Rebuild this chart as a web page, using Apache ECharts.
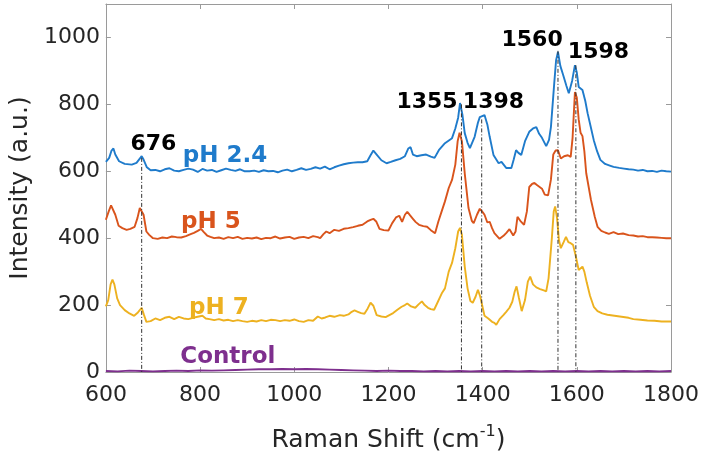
<!DOCTYPE html>
<html><head><meta charset="utf-8">
<script src="https://cdn.jsdelivr.net/npm/echarts@6/dist/echarts.min.js"></script>
<style>html,body{margin:0;padding:0;background:#fff}#c{width:702px;height:459px}</style>
</head><body><div id="c"></div>
<script>
// ---- data ----
const xTicks = [600, 800, 1000, 1200, 1400, 1600, 1800];
const yTicks = [0, 200, 400, 600, 800, 1000];

const pH24 = [[600,628],[607,640],[612,662],[616,668],[620,650],[628,630],[640,622],[655,620],[665,625],[672,638],[676,645],[680,635],[687,612],[695,603],[705,604],[715,600],[725,606],[735,609],[745,602],[755,600],[765,604],[775,608],[785,605],[795,598],[805,607],[815,602],[825,604],[835,598],[845,603],[855,608],[865,604],[875,601],[885,606],[895,600],[905,600],[915,602],[925,598],[935,603],[945,600],[955,601],[965,597],[975,602],[985,605],[995,600],[1005,604],[1015,609],[1025,604],[1035,607],[1045,612],[1055,608],[1065,614],[1075,606],[1085,612],[1095,617],[1105,621],[1115,624],[1125,626],[1135,627],[1145,627],[1155,630],[1162,648],[1168,662],[1175,650],[1185,633],[1196,624],[1205,628],[1215,633],[1225,637],[1235,645],[1242,668],[1247,672],[1252,650],[1260,645],[1270,648],[1280,650],[1290,644],[1298,640],[1307,663],[1320,684],[1335,699],[1342,728],[1348,760],[1352,804],[1357,770],[1362,714],[1368,685],[1373,669],[1383,703],[1390,745],[1394,762],[1399,765],[1404,768],[1410,740],[1415,703],[1423,649],[1434,624],[1440,628],[1450,610],[1461,610],[1466,635],[1471,663],[1476,655],[1482,649],[1490,690],[1499,718],[1507,728],[1514,732],[1520,712],[1526,700],[1535,675],[1541,694],[1545,732],[1552,862],[1556,932],[1560,957],[1565,915],[1571,888],[1578,855],[1583,833],[1590,870],[1596,917],[1600,895],[1604,852],[1612,843],[1618,810],[1623,773],[1630,730],[1636,693],[1643,660],[1650,634],[1660,622],[1670,617],[1678,613],[1690,610],[1700,608],[1710,606],[1720,605],[1730,602],[1740,604],[1750,600],[1760,601],[1770,598],[1780,602],[1790,600],[1800,599]];

const pH5 = [[600,455],[606,480],[611,498],[615,500],[620,470],[627,437],[635,430],[644,425],[652,428],[661,434],[667,460],[672,490],[676,494],[680,470],[686,420],[692,410],[700,400],[710,398],[720,402],[730,400],[740,405],[750,403],[760,402],[770,406],[780,412],[787,416],[795,422],[802,428],[808,418],[815,408],[822,404],[830,400],[840,402],[850,398],[860,403],[870,400],[880,404],[890,398],[900,401],[910,399],[920,402],[930,397],[940,401],[950,400],[960,405],[970,399],[980,402],[990,404],[1000,398],[1010,402],[1020,404],[1030,400],[1040,406],[1050,403],[1055,400],[1062,412],[1068,420],[1075,415],[1085,425],[1095,422],[1105,428],[1115,430],[1125,433],[1135,437],[1145,440],[1155,450],[1162,455],[1168,458],[1174,450],[1181,428],[1190,424],[1200,423],[1208,445],[1216,462],[1223,467],[1229,449],[1235,470],[1240,479],[1246,468],[1252,458],[1258,448],[1265,440],[1274,436],[1282,434],[1290,424],[1299,415],[1306,450],[1313,480],[1320,510],[1328,550],[1335,574],[1342,620],[1347,690],[1351,715],[1356,690],[1362,594],[1370,490],[1377,452],[1381,445],[1388,470],[1394,488],[1400,478],[1404,470],[1410,447],[1415,449],[1420,430],[1425,415],[1436,398],[1445,408],[1450,415],[1457,427],[1465,408],[1470,420],[1474,464],[1480,452],[1488,440],[1494,480],[1499,553],[1505,562],[1510,565],[1516,558],[1520,560],[1526,548],[1532,530],[1539,528],[1545,575],[1550,650],[1555,662],[1560,663],[1566,638],[1573,645],[1581,648],[1587,643],[1591,700],[1596,837],[1600,820],[1604,755],[1608,715],[1612,705],[1616,660],[1620,594],[1630,515],[1638,465],[1644,434],[1652,422],[1660,417],[1668,413],[1678,418],[1688,412],[1698,414],[1710,409],[1720,408],[1730,405],[1740,406],[1750,403],[1760,403],[1770,402],[1780,401],[1790,400],[1800,400]];

const pH7 = [[600,196],[605,215],[610,262],[614,276],[618,262],[624,220],[630,200],[640,185],[650,175],[660,168],[668,178],[676,192],[681,170],[686,150],[695,152],[705,160],[715,155],[725,162],[735,165],[745,158],[755,165],[765,160],[775,158],[785,162],[795,165],[805,168],[812,160],[820,158],[830,155],[840,158],[850,154],[860,156],[870,152],[880,155],[890,152],[900,150],[910,153],[920,151],[930,155],[940,152],[950,156],[960,155],[970,152],[980,155],[990,153],[1000,157],[1010,152],[1020,150],[1030,155],[1040,153],[1050,166],[1058,160],[1066,163],[1075,168],[1085,165],[1097,170],[1105,168],[1115,172],[1122,180],[1128,184],[1135,180],[1142,176],[1149,174],[1156,190],[1162,207],[1168,198],[1175,170],[1185,166],[1194,164],[1202,170],[1210,176],[1219,186],[1228,195],[1235,200],[1240,205],[1248,196],[1257,192],[1264,202],[1271,211],[1277,200],[1284,192],[1290,188],[1297,186],[1305,210],[1314,237],[1320,250],[1328,300],[1335,326],[1342,370],[1348,420],[1352,431],[1356,410],[1362,315],[1368,250],[1374,212],[1379,207],[1385,225],[1390,246],[1395,225],[1404,168],[1412,160],[1420,150],[1425,147],[1429,141],[1436,158],[1444,170],[1450,180],[1457,192],[1463,210],[1468,240],[1472,256],[1477,222],[1483,182],[1490,215],[1496,270],[1501,285],[1507,262],[1514,253],[1522,248],[1530,244],[1535,241],[1540,280],[1547,400],[1551,480],[1554,495],[1558,460],[1562,395],[1566,370],[1572,388],[1577,404],[1582,388],[1587,385],[1592,380],[1598,345],[1604,305],[1608,302],[1612,315],[1616,300],[1621,268],[1628,228],[1636,195],[1644,182],[1654,175],[1665,171],[1680,168],[1695,165],[1710,162],[1720,158],[1735,156],[1750,154],[1765,153],[1780,151],[1800,151]];

const control = [[600,3],[625,2],[650,4],[675,3],[700,2],[725,3],[750,4],[775,3],[800,5],[825,4],[850,5],[875,6],[900,7],[925,8],[950,8],[975,9],[1000,8],[1025,9],[1050,8],[1075,7],[1100,6],[1125,5],[1150,4],[1175,3],[1200,4],[1225,3],[1250,3],[1275,2],[1300,3],[1325,2],[1350,3],[1375,2],[1400,3],[1425,2],[1450,3],[1475,2],[1500,3],[1525,2],[1550,3],[1575,2],[1600,3],[1625,2],[1650,3],[1675,2],[1700,3],[1725,2],[1750,3],[1775,2],[1800,3]];

const seriesNames = ['pH 2.4', 'pH 5', 'pH 7', 'Control'];
const seriesLabelAnchors = [[853, 645], [823, 449], [840, 191], [859, 45]];

const peakPositions = [676, 1355, 1398, 1560, 1598];
const peakTops = [640, 800, 755, 960, 917];
const peakLabels = ['676', '1355', '1398', '1560', '1598'];
const peakLabelAnchors = [[701, 681], [1282, 807], [1423, 807], [1505, 992], [1646, 956]];

// ---- chart ----
const colors = ['#1F7BCB', '#D9541C', '#EDB120', '#7E2F8E'];
const FONT = 'DejaVu Sans';
const frame = '#9a9a9a';
const seriesData = [pH24, pH5, pH7, control];

const series = [];
seriesData.forEach((d, i) => {
  series.push({
    type: 'line', name: seriesNames[i], data: d, showSymbol: false, symbol: 'none',
    lineStyle: { color: colors[i], width: 1.9 }, z: 2, silent: true, animation: false
  });
});
peakPositions.forEach((p, i) => {
  series.push({
    type: 'line', data: [[p, peakTops[i]], [p, 0]], symbol: 'none', silent: true, animation: false,
    lineStyle: { color: '#333', width: 1, type: [4, 2, 1, 2] }, z: 3
  });
});
series.push({
  type: 'scatter', symbolSize: 0, silent: true, animation: false, z: 5,
  itemStyle: { opacity: 1 },
  data: peakLabelAnchors.map((a, i) => ({ value: a, name: peakLabels[i] })),
  label: { show: true, position: 'inside', formatter: p => p.name, color: '#000', opacity: 1,
    fontFamily: FONT, fontWeight: 'bold', fontSize: 22 }
});
series.push({
  type: 'scatter', symbolSize: 0, silent: true, animation: false, z: 5,
  itemStyle: { opacity: 1 },
  data: seriesLabelAnchors.map((a, i) => ({ value: a, name: seriesNames[i],
    label: { color: colors[i] } })),
  label: { show: true, position: 'inside', formatter: p => p.name, opacity: 1,
    fontFamily: FONT, fontWeight: 'bold', fontSize: 23 }
});

const baseX = { type: 'value', min: xTicks[0], max: xTicks[xTicks.length - 1], interval: xTicks[1] - xTicks[0],
  splitLine: { show: false }, axisLine: { show: true, onZero: false, lineStyle: { color: frame, width: 1 } },
  axisTick: { show: true, inside: true, length: 5, lineStyle: { color: frame } } };
const baseY = { type: 'value', min: yTicks[0], max: 1100, interval: yTicks[1] - yTicks[0],
  splitLine: { show: false }, axisLine: { show: true, onZero: false, lineStyle: { color: frame, width: 1 } },
  axisTick: { show: true, inside: true, length: 5, lineStyle: { color: frame } } };

const chart = echarts.init(document.getElementById('c'), null, { renderer: 'canvas' });
chart.setOption({
  animation: false,
  backgroundColor: '#fff',
  grid: { left: 101, right: 31, top: 4, bottom: 87, containLabel: false },
  xAxis: [
    Object.assign({}, baseX, { position: 'bottom',
      name: 'Raman Shift (cm{sup|-1})', nameLocation: 'middle', nameGap: 52,
      nameTextStyle: { fontFamily: FONT, fontSize: 25, color: '#262626',
        rich: { sup: { fontFamily: FONT, fontSize: 16, color: '#262626', padding: [0, 0, 16, 0] } } },
      axisLabel: { show: true, margin: 12, fontFamily: FONT, fontSize: 22, color: '#262626',
        showMinLabel: true, showMaxLabel: true, formatter: v => String(v) } }),
    Object.assign({}, baseX, { position: 'top', axisLabel: { show: false } })
  ],
  yAxis: [
    Object.assign({}, baseY, { position: 'left',
      name: 'Intensity (a.u.)', nameLocation: 'middle', nameGap: 68, nameRotate: 90,
      nameTextStyle: { fontFamily: FONT, fontSize: 25, color: '#262626' },
      axisLabel: { show: true, margin: 6, fontFamily: FONT, fontSize: 22, color: '#262626', showMinLabel: true, showMaxLabel: false,
        formatter: v => (v % 200 === 0 ? String(v) : '') } }),
    Object.assign({}, baseY, { position: 'right', axisLabel: { show: false } })
  ],
  series: series
});
</script></body></html>
